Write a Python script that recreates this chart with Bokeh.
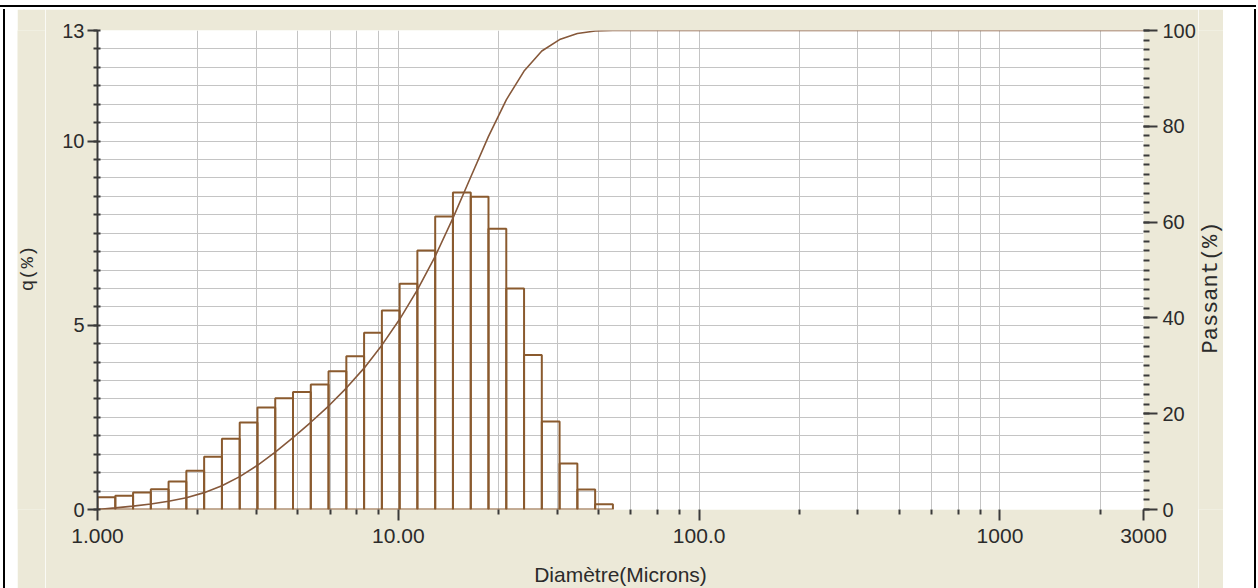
import math
from bokeh.plotting import figure
from bokeh.models import Range1d, LinearAxis, FixedTicker, Spacer, Label
from bokeh.layouts import row, column
from bokeh.embed import file_html
from bokeh.resources import INLINE

# ---- data ----
edges = [1.000, 1.146, 1.313, 1.504, 1.723, 1.974, 2.262, 2.592, 2.970, 3.402,
         3.898, 4.466, 5.117, 5.862, 6.717, 7.695, 8.817, 10.10, 11.57, 13.26,
         15.19, 17.41, 19.94, 22.85, 26.18, 29.99, 34.36, 39.37, 45.11, 51.68]
q_pct = [0.33, 0.37, 0.46, 0.55, 0.76, 1.05, 1.43, 1.92, 2.36, 2.77,
         3.02, 3.19, 3.39, 3.75, 4.16, 4.80, 5.40, 6.13, 7.03, 7.95,
         8.60, 8.49, 7.62, 6.00, 4.19, 2.39, 1.25, 0.54, 0.14]
curve_x = edges + [3000.0]
passant = [0, 0.33, 0.70, 1.16, 1.71, 2.47, 3.52, 4.95, 6.87, 9.23,
           12.00, 15.02, 18.21, 21.60, 25.35, 29.51, 34.31, 39.71, 45.84, 52.87,
           60.82, 69.42, 77.91, 85.53, 91.53, 95.72, 98.11, 99.36, 99.90, 100.0, 100.0]
x_major = [1, 10, 100, 1000, 3000]
x_labels = ["1.000", "10.00", "100.0", "1000", "3000"]
y_left_major = [0, 5, 10, 13]
y_right_major = [0, 20, 40, 60, 80, 100]

# ---- styles ----
BEIGE = "#ECE9D8"
BROWN = "#8A5A2E"
CURVE = "#86583A"
GRID = "#C4C4C4"
AX = "#3a3a3a"
TXT = "#2b2b2b"

x_minor = [d * k ** 1.106 for d in (1, 10, 100, 1000) for k in range(2, 8)]
x_minor = [v for v in x_minor if v < 3000]
y_half = [i * 0.5 for i in range(27)]
y_right_minor = list(range(0, 101, 2))

H = 579
LEFT_W, MAIN_W, RIGHT_W = 28, 1153, 25

p = figure(width=MAIN_W, height=H, x_axis_type="log", output_backend="svg",
           toolbar_location=None, x_range=Range1d(1, 3000), y_range=Range1d(0, 13),
           min_border_left=52, min_border_right=54, min_border_top=21, min_border_bottom=79)
p.background_fill_color = "white"
p.border_fill_color = BEIGE
p.outline_line_color = None

p.extra_y_ranges = {"pass": Range1d(0, 100)}

# grids
p.xgrid.ticker = FixedTicker(ticks=sorted(x_minor + x_major))
p.xgrid.grid_line_color = GRID
p.xgrid.grid_line_width = 1
p.ygrid.ticker = FixedTicker(ticks=y_half)
p.ygrid.grid_line_color = GRID
p.ygrid.grid_line_width = 1

# histogram (unfilled bars)
p.quad(left=edges[:-1], right=edges[1:], bottom=0, top=q_pct,
       fill_color=None, line_color=BROWN, line_width=2)

# cumulative curve
p.line(curve_x, passant, y_range_name="pass", line_color=CURVE, line_width=1.6)

font = "Liberation Sans"

# x axis
xa = p.xaxis[0]
xa.ticker = FixedTicker(ticks=x_major, minor_ticks=x_minor)
xa.major_label_overrides = {v: s for v, s in zip(x_major, x_labels)}
xa.axis_line_color = None
xa.major_tick_line_color = AX
xa.major_tick_line_width = 2
xa.major_tick_out = 11
xa.major_tick_in = 0
xa.minor_tick_line_color = AX
xa.minor_tick_line_width = 2
xa.minor_tick_out = 5
xa.minor_tick_in = 0
xa.major_label_standoff = 8
xa.major_label_text_font = font
xa.major_label_text_font_size = "21px"
xa.major_label_text_color = TXT
xa.axis_label = "Diamètre(Microns)"
xa.axis_label_text_font = font
xa.axis_label_text_font_size = "21px"
xa.axis_label_text_font_style = "normal"
xa.axis_label_text_color = TXT
xa.axis_label_standoff = 17

# left axis
ya = p.yaxis[0]
ya.ticker = FixedTicker(ticks=y_left_major, minor_ticks=y_half)
ya.axis_line_color = AX
ya.axis_line_width = 2
ya.major_tick_line_color = AX
ya.major_tick_line_width = 2
ya.major_tick_out = 10
ya.major_tick_in = 0
ya.minor_tick_line_color = AX
ya.minor_tick_line_width = 2
ya.minor_tick_out = 4
ya.minor_tick_in = 3
ya.major_label_standoff = 3
ya.major_label_text_font = font
ya.major_label_text_font_size = "20px"
ya.major_label_text_color = TXT

# right axis
ra = LinearAxis(y_range_name="pass",
                ticker=FixedTicker(ticks=y_right_major, minor_ticks=y_right_minor))
ra.axis_line_color = None
ra.major_tick_line_color = AX
ra.major_tick_line_width = 2
ra.major_tick_out = 14
ra.major_tick_in = 0
ra.minor_tick_line_color = AX
ra.minor_tick_line_width = 2
ra.minor_tick_out = 6
ra.minor_tick_in = 0
ra.major_label_standoff = 5
ra.major_label_text_font = font
ra.major_label_text_font_size = "20px"
ra.major_label_text_color = TXT
p.add_layout(ra, "right")


def title_strip(width, text, sx, sy, size):
    """A narrow beige panel holding one vertical axis title (reads bottom-to-top)."""
    f = figure(width=width, height=H, output_backend="svg", toolbar_location=None,
               x_range=Range1d(0, 1), y_range=Range1d(0, 1), min_border=0,
               x_axis_location=None, y_axis_location=None)
    f.grid.visible = False
    f.background_fill_color = BEIGE
    f.border_fill_color = BEIGE
    f.outline_line_color = None
    f.scatter(x=[], y=[])
    f.add_layout(Label(x=sx, y=sy, x_units="screen", y_units="screen", text=text,
                       angle=math.pi / 2, text_align="center", text_baseline="middle",
                       text_font="Liberation Mono", text_font_size=size, text_color=TXT))
    return f


left_title = title_strip(LEFT_W, "q(%)", 10, 241, "19px")
right_title = title_strip(RIGHT_W, "Passant(%)", 13, 222, "22px")

top_bar = {"background": "linear-gradient(to bottom, white 5px, black 5px, black 7px, white 7px)"}
left_bar = {"background": "linear-gradient(to right, white 3px, black 3px, black 5px, white 5px)"}
right_bar = {"background": "linear-gradient(to right, white 31px, black 31px, black 33px, white 33px)"}

layout = column(
    Spacer(width=1256, height=9, styles=top_bar),
    row(
        Spacer(width=17, height=H, styles=left_bar),
        left_title,
        p,
        right_title,
        Spacer(width=33, height=H, styles=right_bar),
    ),
)

open("out.html", "w").write(file_html(layout, INLINE))
